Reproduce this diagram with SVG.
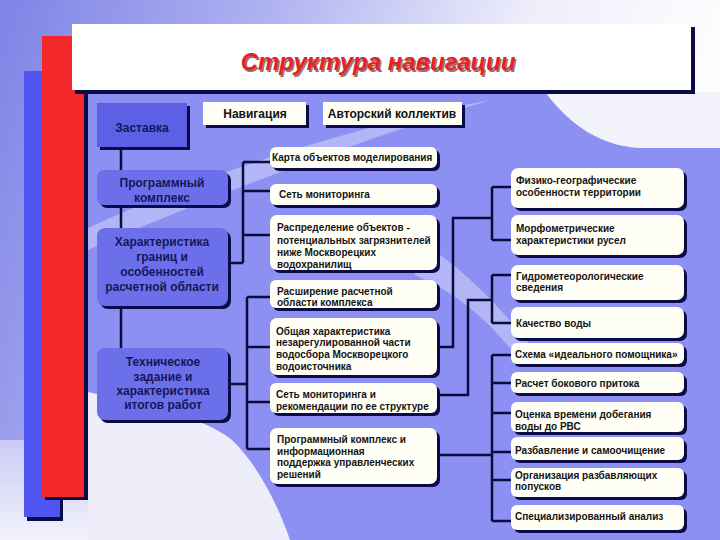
<svg xmlns="http://www.w3.org/2000/svg" width="720" height="540" viewBox="0 0 720 540">
<defs>
<linearGradient id="bg" x1="0" y1="0" x2="1" y2="0.25">
<stop offset="0" stop-color="#7e83e6"/>
<stop offset="0.35" stop-color="#aeb1f0"/>
<stop offset="0.7" stop-color="#eeeefb"/>
<stop offset="1" stop-color="#ffffff"/>
</linearGradient>
<linearGradient id="bot" x1="0" y1="0" x2="0" y2="1">
<stop offset="0" stop-color="#c9cbf5"/>
<stop offset="1" stop-color="#f2f2fc"/>
</linearGradient>
</defs>
<style>
.sh{fill:#0b0b48}
.lb{fill:#6b70ea}
.wb{fill:#fffff6}
.lt{font-family:"Liberation Sans",Arial,sans-serif;font-size:12px;font-weight:bold;fill:#16165a;text-anchor:middle}
.tt{font-family:"Liberation Sans",Arial,sans-serif;font-size:12px;font-weight:bold;fill:#101010;text-anchor:middle}
.t{font-family:"Liberation Sans",Arial,sans-serif;font-size:10px;font-weight:bold;fill:#141414}
.c{fill:none;stroke:#0b0b3c;stroke-width:2.5}
.ti{font-family:"Liberation Sans",Arial,sans-serif;font-size:24px;font-weight:bold;font-style:italic;text-anchor:middle}
</style>
<!-- background -->
<rect x="0" y="0" width="720" height="540" fill="url(#bg)"/>
<rect x="0" y="440" width="88" height="100" fill="url(#bot)"/>
<rect x="88" y="92" width="632" height="448" fill="#8b90f2"/>
<path d="M545,92 C570,125 600,146 640,148 L720,148 L720,92 Z" fill="#f3f3fc"/>
<path d="M88,392 C150,405 205,418 232,440 C258,465 278,505 290,540 L88,540 Z" fill="#eeeefa"/>
<path d="M88,228 C170,190 300,140 470,104 L490,100 C330,150 190,205 88,250 Z" fill="#ffffff" opacity="0.35"/>
<path d="M415,238 C455,262 495,300 530,345 L510,348 C480,312 450,290 415,275 Z" fill="#ffffff" opacity="0.35"/>
<!-- side bars -->
<rect x="27" y="74" width="36" height="447" class="sh"/>
<rect x="24" y="71" width="36" height="446" fill="#4f55f0"/>
<rect x="45" y="39" width="43" height="461" class="sh"/>
<rect x="42" y="36" width="42" height="461" fill="#f42828"/>
<!-- title -->
<g id="title">
<rect x="75" y="27" width="620" height="67" class="sh"/>
<rect x="72" y="24" width="619" height="66" fill="#ffffff"/>
<text class="ti" x="379.5" y="71.5" fill="#5a1010" opacity="0.6">Структура навигации</text>
<text class="ti" x="378" y="70" fill="#e42222">Структура навигации</text>
</g>
<!-- connectors -->
<g id="connectors">
<path class="c" d="M121,147 V170 M121,205 V228 M121,306 V348"/>
<path class="c" d="M228,263 H243 M243,162 V263 M243,162 H270 M243,191 H270 M243,235 H270"/>
<path class="c" d="M228,384 H247 M247,297 V449 M247,297 H270 M247,347 H270 M247,402 H270 M247,449 H270"/>
<path class="c" d="M437,347 H453 V218 H492 M492,187 V240 M492,187 H511 M492,240 H511"/>
<path class="c" d="M437,395 H468 V300 H492 M492,275 V323 M492,275 H511 M492,323 H511"/>
<path class="c" d="M437,455 H492 M492,355 V521 M492,355 H511 M492,383 H511 M492,413 H511 M492,452 H511 M492,480 H511 M492,521 H511"/>
</g>
<!-- left column -->
<g id="zastavka">
<rect x="100" y="106" width="90" height="44" class="sh"/>
<rect x="97" y="103" width="90" height="44" fill="#5b60e4"/>
<text class="lt" x="142" y="132">Заставка</text>
</g>
<g id="progkompleks">
<rect x="100" y="173" width="131" height="35" rx="7" class="sh"/>
<rect x="97" y="170" width="131" height="35" rx="7" class="lb"/>
<text class="lt" x="162" y="187">Программный</text>
<text class="lt" x="162" y="202">комплекс</text>
</g>
<g id="harakteristika">
<rect x="100" y="231" width="131" height="78" rx="8" class="sh"/>
<rect x="97" y="228" width="131" height="78" rx="8" class="lb"/>
<text class="lt" x="162" y="246">Характеристика</text>
<text class="lt" x="162" y="261">границ и</text>
<text class="lt" x="162" y="276">особенностей</text>
<text class="lt" x="162" y="291">расчетной области</text>
</g>
<g id="tehzadanie">
<rect x="100" y="351" width="131" height="72" rx="8" class="sh"/>
<rect x="97" y="348" width="131" height="72" rx="8" class="lb"/>
<text class="lt" x="163" y="366">Техническое</text>
<text class="lt" x="163" y="381">задание и</text>
<text class="lt" x="163" y="395">характеристика</text>
<text class="lt" x="163" y="409">итогов работ</text>
</g>
<!-- top -->
<g id="navigaciya">
<rect x="206" y="105" width="103" height="23" class="sh"/>
<rect x="203" y="102" width="103" height="23" class="wb"/>
<text class="tt" x="255" y="118">Навигация</text>
</g>
<g id="avtory">
<rect x="326" y="105" width="139" height="23" class="sh"/>
<rect x="323" y="102" width="139" height="23" class="wb"/>
<text class="tt" x="392" y="118">Авторский коллектив</text>
</g>
<!-- middle column -->
<g id="karta">
<rect x="273" y="150" width="167" height="21" rx="6" class="sh"/>
<rect x="270" y="147" width="167" height="21" rx="6" class="wb"/>
<text class="t" x="272" y="161">Карта объектов моделирования</text>
</g>
<g id="set">
<rect x="273" y="187" width="167" height="21" rx="6" class="sh"/>
<rect x="270" y="184" width="167" height="21" rx="6" class="wb"/>
<text class="t" x="279" y="198">Сеть мониторинга</text>
</g>
<g id="raspredelenie">
<rect x="273" y="218" width="167" height="55" rx="7" class="sh"/>
<rect x="270" y="215" width="167" height="55" rx="7" class="wb"/>
<text class="t" x="277" y="231">Распределение объектов -</text>
<text class="t" x="277" y="244">потенциальных загрязнителей</text>
<text class="t" x="277" y="256">ниже Москворецких</text>
<text class="t" x="277" y="268">водохранилищ</text>
</g>
<g id="rasshirenie">
<rect x="273" y="283" width="167" height="28" rx="6" class="sh"/>
<rect x="270" y="280" width="167" height="28" rx="6" class="wb"/>
<text class="t" x="277" y="295">Расширение расчетной</text>
<text class="t" x="277" y="306">области комплекса</text>
</g>
<g id="obshaya">
<rect x="273" y="321" width="167" height="57" rx="7" class="sh"/>
<rect x="270" y="318" width="167" height="57" rx="7" class="wb"/>
<text class="t" x="276" y="335">Общая характеристика</text>
<text class="t" x="276" y="346">незарегулированной части</text>
<text class="t" x="276" y="358">водосбора  Москворецкого</text>
<text class="t" x="276" y="370">водоисточника</text>
</g>
<g id="setrek">
<rect x="273" y="386" width="167" height="30" rx="6" class="sh"/>
<rect x="270" y="383" width="167" height="30" rx="6" class="wb"/>
<text class="t" x="276" y="398">Сеть мониторинга и</text>
<text class="t" x="276" y="410">рекомендации по ее структуре</text>
</g>
<g id="progpodderzhka">
<rect x="273" y="431" width="167" height="56" rx="7" class="sh"/>
<rect x="270" y="428" width="167" height="56" rx="7" class="wb"/>
<text class="t" x="277" y="443">Программный комплекс и</text>
<text class="t" x="277" y="455">информационная</text>
<text class="t" x="277" y="466">поддержка управленческих</text>
<text class="t" x="277" y="478">решений</text>
</g>
<!-- right column -->
<g id="fiziko">
<rect x="514" y="171" width="173" height="40" rx="7" class="sh"/>
<rect x="511" y="168" width="173" height="40" rx="7" class="wb"/>
<text class="t" x="516" y="184">Физико-географические</text>
<text class="t" x="516" y="196">особенности территории</text>
</g>
<g id="morfo">
<rect x="514" y="218" width="173" height="40" rx="7" class="sh"/>
<rect x="511" y="215" width="173" height="40" rx="7" class="wb"/>
<text class="t" x="516" y="232">Морфометрические</text>
<text class="t" x="516" y="244">характеристики русел</text>
</g>
<g id="gidro">
<rect x="514" y="268" width="173" height="35" rx="7" class="sh"/>
<rect x="511" y="265" width="173" height="35" rx="7" class="wb"/>
<text class="t" x="516" y="280">Гидрометеорологические</text>
<text class="t" x="516" y="291">сведения</text>
</g>
<g id="kachestvo">
<rect x="514" y="310" width="173" height="31" rx="7" class="sh"/>
<rect x="511" y="307" width="173" height="31" rx="7" class="wb"/>
<text class="t" x="516" y="327">Качество воды</text>
</g>
<g id="shema">
<rect x="514" y="346" width="173" height="21" rx="6" class="sh"/>
<rect x="511" y="343" width="173" height="21" rx="6" class="wb"/>
<text class="t" x="515" y="358">Схема «идеального помощника»</text>
</g>
<g id="raschet">
<rect x="514" y="375" width="173" height="21" rx="6" class="sh"/>
<rect x="511" y="372" width="173" height="21" rx="6" class="wb"/>
<text class="t" x="515" y="387">Расчет бокового притока</text>
</g>
<g id="ocenka">
<rect x="514" y="405" width="173" height="30" rx="6" class="sh"/>
<rect x="511" y="402" width="173" height="30" rx="6" class="wb"/>
<text class="t" x="515" y="418">Оценка времени добегания</text>
<text class="t" x="515" y="430">воды до РВС</text>
</g>
<g id="razbavlenie">
<rect x="514" y="440" width="173" height="23" rx="6" class="sh"/>
<rect x="511" y="437" width="173" height="23" rx="6" class="wb"/>
<text class="t" x="515" y="454">Разбавление и самоочищение</text>
</g>
<g id="organizaciya">
<rect x="514" y="471" width="173" height="29" rx="6" class="sh"/>
<rect x="511" y="468" width="173" height="29" rx="6" class="wb"/>
<text class="t" x="515" y="479">Организация разбавляющих</text>
<text class="t" x="515" y="490">попусков</text>
</g>
<g id="specanaliz">
<rect x="514" y="508" width="173" height="25" rx="6" class="sh"/>
<rect x="511" y="505" width="173" height="25" rx="6" class="wb"/>
<text class="t" x="515" y="520">Специализированный анализ</text>
</g>
</svg>
